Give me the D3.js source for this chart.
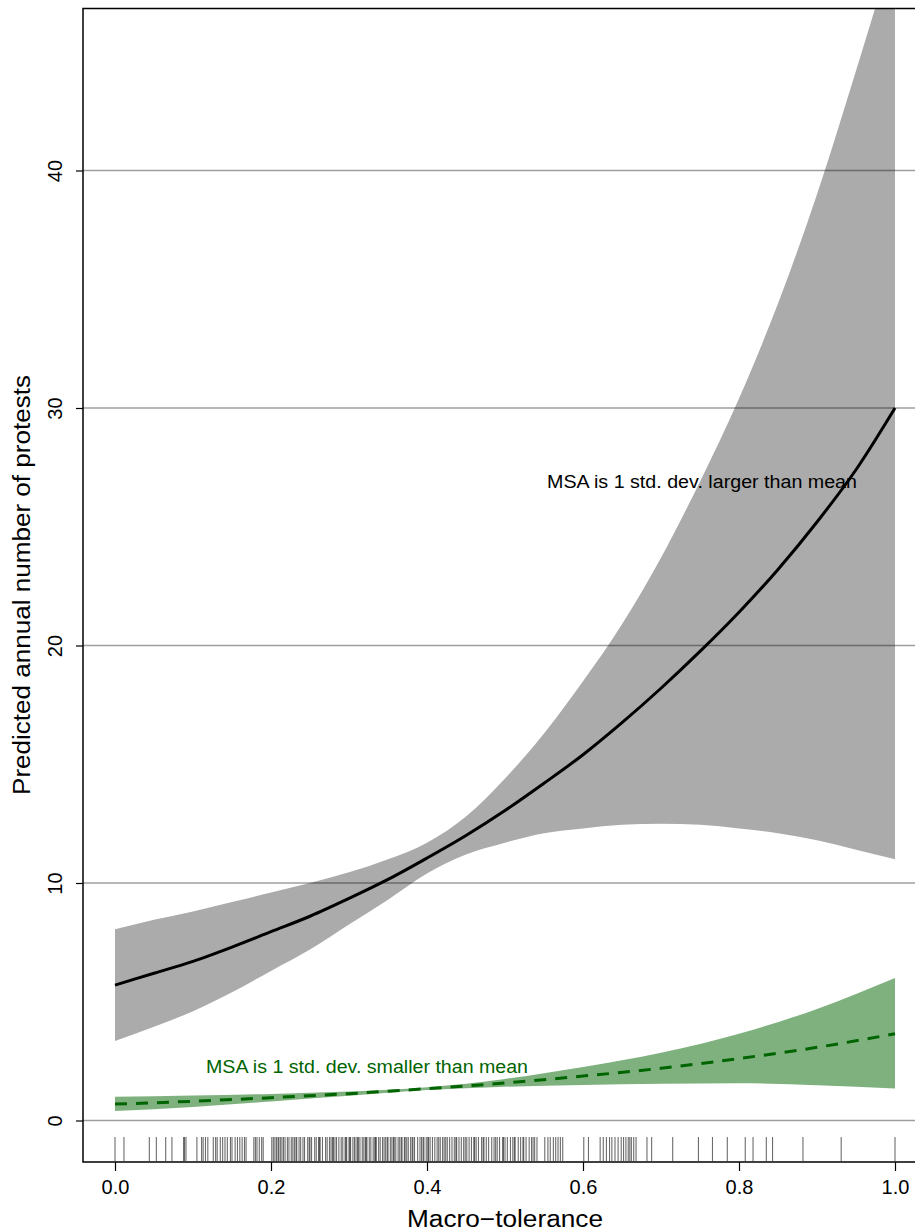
<!DOCTYPE html>
<html><head><meta charset="utf-8">
<script src="https://cdn.jsdelivr.net/npm/d3@7"></script>
<style>body{margin:0;background:#fff}svg{display:block}text{font-family:"Liberation Sans",Arial,sans-serif}</style>
</head><body>
<script>
// x grid of estimates
const tGrid = [0,0.05,0.1,0.15,0.2,0.25,0.3,0.35,0.4,0.45,0.5,0.55,0.6,0.65,0.7,0.75,0.8,0.85,0.9,0.95,1.0];
// MSA +1 sd (black)
const largeMean  = [5.7,6.2,6.7,7.3,7.95,8.6,9.35,10.15,11.05,12.0,13.05,14.2,15.4,16.75,18.2,19.75,21.4,23.2,25.2,27.4,30.0];
const largeUpper = [8.05,8.45,8.8,9.2,9.6,10.0,10.45,11.0,11.7,12.8,14.4,16.3,18.5,20.9,23.7,26.9,30.4,34.4,39.0,44.2,49.6];
const largeLower = [3.35,3.95,4.6,5.4,6.3,7.2,8.25,9.3,10.4,11.2,11.7,12.1,12.3,12.45,12.5,12.45,12.3,12.1,11.8,11.4,11.0];
// MSA -1 sd (green)
const gGrid = [0,0.1,0.2,0.3,0.4,0.5,0.6,0.7,0.8,0.9,1.0];
const smallMean  = [0.69,0.81,0.96,1.13,1.34,1.58,1.87,2.2,2.61,3.08,3.65];
const smallUpper = [1.0,1.05,1.12,1.22,1.4,1.75,2.25,2.85,3.65,4.7,6.0];
const smallLower = [0.4,0.57,0.8,1.04,1.28,1.42,1.5,1.55,1.57,1.48,1.35];
// observed macro-tolerance (rug)
const rugValues = [0.0,0.0115,0.044,0.053,0.065,0.073,0.088,0.089,0.091,0.105,0.111,0.113,0.116,0.119,0.126,0.129,0.131,0.135,0.138,0.141,0.144,0.148,0.150,0.154,0.157,0.160,0.163,0.166,0.168,0.178,0.180,0.182,0.185,0.188,0.190,
0.201,0.203,0.205,0.207,0.210,0.212,0.214,0.218,0.221,0.223,0.226,0.228,0.230,0.233,0.236,0.238,0.241,0.243,0.247,0.250,0.252,0.256,0.258,0.261,0.263,0.266,0.270,0.272,0.275,0.277,0.280,0.282,0.284,0.287,0.290,0.292,0.295,0.297,0.300,0.302,0.305,0.307,0.309,0.312,0.314,0.317,0.319,0.321,0.323,0.326,0.328,0.331,0.333,0.335,0.338,0.340,0.343,0.345,0.347,0.350,0.353,0.355,0.357,0.360,0.363,0.365,0.368,0.371,0.374,0.376,0.379,0.382,0.384,0.388,0.391,0.393,0.396,0.399,0.402,0.404,0.407,0.410,0.413,0.417,0.420,0.422,0.426,0.429,0.432,0.435,0.438,0.441,0.444,0.447,0.451,0.454,0.457,0.460,0.463,0.466,0.470,0.473,0.476,0.479,0.483,0.486,0.490,0.493,0.497,0.500,0.503,0.507,0.510,0.513,0.517,0.520,0.524,0.527,0.531,0.534,0.538,0.541,
0.209,0.216,0.232,0.249,0.262,0.279,0.296,0.301,0.311,0.322,0.334,0.349,0.358,0.367,0.372,0.381,0.395,0.401,0.415,0.424,0.437,0.449,0.461,0.472,0.488,0.498,0.512,0.523,0.536,
0.551,0.555,0.558,0.562,0.565,0.568,0.571,0.574,0.601,0.607,0.622,0.626,0.630,0.634,0.637,0.641,0.645,0.649,0.652,0.655,0.658,0.660,0.662,0.665,0.668,0.682,0.688,0.715,0.748,0.766,0.785,0.808,0.818,0.835,0.843,0.882,0.931,1.0];
const xTicks = [0,0.2,0.4,0.6,0.8,1.0];
const yTicks = [0,10,20,30,40];

const W = 915, H = 1231;
const svg = d3.select("body").append("svg").attr("width", W).attr("height", H);
const x = d3.scaleLinear().domain([0,1]).range([115,895]);
const y = d3.scaleLinear().domain([0,40]).range([1120.5,170.5]);
const plot = {left:83, top:8.5, right:1000, bottom:1162};

svg.append("clipPath").attr("id","clip").append("rect")
  .attr("x",plot.left).attr("y",plot.top).attr("width",plot.right-plot.left).attr("height",plot.bottom-plot.top);
const g = svg.append("g").attr("clip-path","url(#clip)");

const area = (lo, hi, grid) => d3.area().x((d,i)=>x(grid[i])).y0((d,i)=>y(lo[i])).y1((d,i)=>y(hi[i])).curve(d3.curveMonotoneX);
const line = (m, grid) => d3.line().x((d,i)=>x(grid[i])).y((d,i)=>y(m[i])).curve(d3.curveMonotoneX);

g.append("path").datum(largeMean).attr("d", area(largeLower, largeUpper, tGrid)).attr("fill","#ababab");
g.append("path").datum(smallMean).attr("d", area(smallLower, smallUpper, gGrid)).attr("fill","#7fb17f");

// gridlines
g.selectAll("line.grid").data(yTicks).join("line")
  .attr("x1",plot.left).attr("x2",W).attr("y1",d=>y(d)).attr("y2",d=>y(d))
  .attr("stroke","#000").attr("stroke-opacity",0.38).attr("stroke-width",1.5);

g.append("path").datum(largeMean).attr("d", line(largeMean, tGrid)).attr("fill","none").attr("stroke","#000").attr("stroke-width",3);
g.append("path").datum(smallMean).attr("d", line(smallMean, gGrid)).attr("fill","none").attr("stroke","#006400").attr("stroke-width",3).attr("stroke-dasharray","12,9");

// rug
g.selectAll("line.rug").data(rugValues).join("line")
  .attr("x1",d=>x(d)).attr("x2",d=>x(d)).attr("y1",1137).attr("y2",1161)
  .attr("stroke","#000").attr("stroke-opacity",0.58).attr("stroke-width",1.1);

// box (left, top, bottom)
svg.append("path").attr("d",`M${W+5},${plot.top}H${plot.left}V${plot.bottom}H${W+5}`).attr("fill","none").attr("stroke","#000").attr("stroke-width",1.5);

// axes
const xa = svg.append("g").attr("transform",`translate(0,${plot.bottom})`)
  .call(d3.axisBottom(x).tickValues(xTicks).tickFormat(d3.format(".1f")).tickSize(9).tickPadding(9));
xa.select(".domain").remove();
xa.selectAll("line").attr("stroke","#000").attr("stroke-width",1.2);
xa.selectAll("text").attr("font-size","20px").attr("fill","#000").style("font-family","Liberation Sans, Arial, sans-serif");

const ya = svg.append("g").attr("transform",`translate(${plot.left},0)`)
  .call(d3.axisLeft(y).tickValues(yTicks).tickSize(7).tickFormat(d3.format("d")));
ya.select(".domain").remove();
ya.selectAll("line").attr("stroke","#000").attr("stroke-width",1.2);
ya.selectAll("text").attr("font-size","20px").attr("fill","#000").style("font-family","Liberation Sans, Arial, sans-serif")
  .attr("x",null).attr("dy",null).attr("text-anchor","middle")
  .attr("transform","translate(-28,0) rotate(-90)").attr("dy","0.35em");

// annotations
svg.append("text").attr("x",702).attr("y",488).attr("text-anchor","middle").attr("font-size","17.5px").attr("fill","#000")
  .attr("textLength",310).attr("lengthAdjust","spacingAndGlyphs")
  .text("MSA is 1 std. dev. larger than mean");
svg.append("text").attr("x",367).attr("y",1073).attr("text-anchor","middle").attr("font-size","17.5px").attr("fill","#006400")
  .attr("textLength",322).attr("lengthAdjust","spacingAndGlyphs")
  .text("MSA is 1 std. dev. smaller than mean");

// titles
svg.append("text").attr("x",505).attr("y",1227).attr("text-anchor","middle").attr("font-size","23.5px")
  .attr("textLength",196).attr("lengthAdjust","spacingAndGlyphs").text("Macro\u2212tolerance");
svg.append("text").attr("transform","translate(30,585) rotate(-90)").attr("text-anchor","middle").attr("font-size","23.5px")
  .attr("textLength",420).attr("lengthAdjust","spacingAndGlyphs").text("Predicted annual number of protests");
</script>
</body></html>
